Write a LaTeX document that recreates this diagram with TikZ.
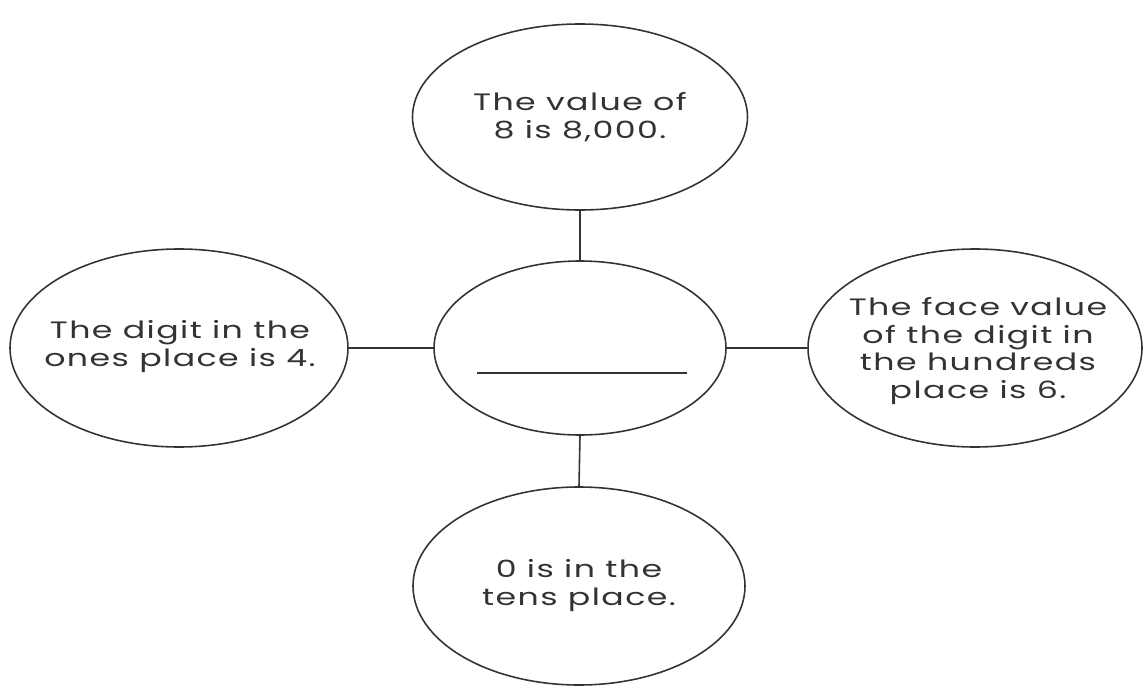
\documentclass[tikz,border=0pt]{standalone}
\usepackage{fontspec}
\setmainfont{Poppins}[FakeStretch=1.4, LetterSpace=6]
\usepackage{xcolor}
\usepackage{tikz}
\usetikzlibrary{positioning, shapes}

\definecolor{inkgray}{HTML}{333333}
\tikzset{
  bubble/.style={draw=inkgray, line width=0.9pt, ellipse, inner sep=0pt},
  bubbletext/.style={align=center, text=inkgray, font=\fontsize{13.5}{15.9}\selectfont},
  link/.style={draw=inkgray, line width=0.9pt}
}

\begin{document}
\begin{tikzpicture}
        \useasboundingbox (0,0) rectangle (22.86,-13.8);
        
        \node[bubble, minimum width=6.7cm, minimum height=3.72cm] (top) at (11.6,-2.34) {};
        \node[bubble, minimum width=5.84cm, minimum height=3.48cm] (centre) at (11.6,-6.96) {};
        \node[bubble, minimum width=6.76cm, minimum height=3.96cm] (left) at (3.58,-6.96) {};
        \node[bubble, minimum width=6.68cm, minimum height=3.96cm] (right) at (19.5,-6.96) {};
        \node[bubble, minimum width=6.64cm, minimum height=3.96cm] (bottom) at (11.58,-11.72) {};
        
        \node[bubbletext] (top-txt) at (top) {The value of\\8 is 8,000.};
        \node[bubbletext] (left-txt) at (3.6,-6.94) {The digit in the\\ones place is 4.};
        \node[bubbletext] (right-txt) at (19.56,-7.02) {The face value\\of the digit in\\the hundreds\\place is 6.};
        \node[bubbletext] (bottom-txt) at (bottom) {0 is in the\\tens place.};
        
        % blank to fill in
        \coordinate (blank-a) at (9.54,-7.46);
        \coordinate (blank-b) at (13.74,-7.46);
        \draw[link, line width=0.7pt] (blank-a) -- (blank-b);
        
        \draw[link] (top.south) -- (centre.north);
        \draw[link] (centre.south) -- (bottom.north);
        \draw[link] (left.east) -- (centre.west);
        \draw[link] (centre.east) -- (right.west);
      \end{tikzpicture}
\end{document}
